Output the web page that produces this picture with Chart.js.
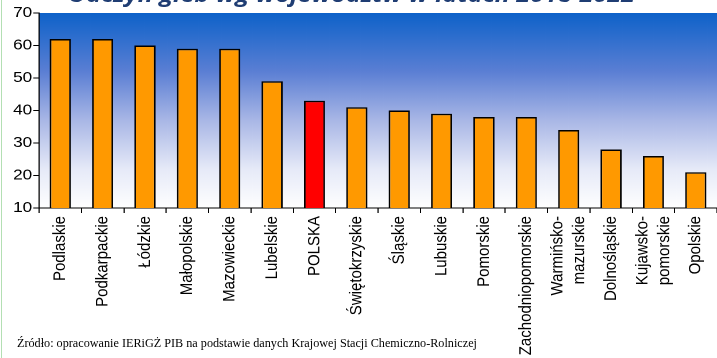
<!DOCTYPE html>
<html lang="pl">
<head>
<meta charset="utf-8">
<script src="https://cdn.jsdelivr.net/npm/chart.js@4.4.1/dist/chart.umd.min.js"></script>
<style>
    html, body { margin: 0; padding: 0; background: #fff; }
    body { width: 717px; height: 358px; overflow: hidden; position: relative; }
    #edge { position: absolute; left: 1px; top: 0; width: 1px; height: 358px; background: #b3dfb3; }
    #title {
        position: absolute; left: 68px; top: -18px; white-space: nowrap;
        font: italic bold 22px/22px "Open Sans", sans-serif; color: #1f3d73;
        transform: scaleX(1.14); transform-origin: 0 0;
    }
    #wrap {
        position: absolute; left: 0; top: 0; width: 624px; height: 358px;
        transform: scaleX(1.149); transform-origin: 0 0;
    }
    #source {
        position: absolute; left: 17px; top: 336px; white-space: nowrap;
        font: 12.2px "Liberation Serif", "Times New Roman", serif; color: #000;
    }
</style>
</head>
<body>
<div id="edge"></div>
<div id="wrap"><canvas id="chart" width="624" height="358"></canvas></div>
<div id="title">Odczyn gleb wg województw w latach 2018-2022</div>
<div id="source">Źródło: opracowanie IERiGŻ PIB na podstawie danych Krajowej Stacji Chemiczno-Rolniczej</div>
<script>
// ========================================
// dane wykresu
// ========================================

const categories = [
    'Podlaskie', 'Podkarpackie', 'Łódzkie', 'Małopolskie', 'Mazowieckie',
    'Lubelskie', 'POLSKA', 'Świętokrzyskie', 'Śląskie', 'Lubuskie',
    'Pomorskie', 'Zachodniopomorskie', ['Warmińsko-', 'mazurskie'],
    'Dolnośląskie', ['Kujawsko-', 'pomorskie'], 'Opolskie'
];
const values = [62, 62, 60, 59, 59, 49, 43, 41, 40, 39, 38, 38, 34, 28, 26, 21];
const yTicks = [10, 20, 30, 40, 50, 60, 70];
const highlight = 'POLSKA';

const barColors = categories.map(c => c === highlight ? '#ff0000' : '#ff9900');

// tlo obszaru wykresu - gradient niebieski
const plotBackground = {
    id: 'plotBackground',
    beforeDraw(chart) {
        const { ctx, chartArea: a } = chart;
        const g = ctx.createLinearGradient(0, a.top, 0, a.bottom);
        g.addColorStop(0, '#0e62c9');
        g.addColorStop(0.3, '#5b7fd4');
        g.addColorStop(0.55, '#a9b7e6');
        g.addColorStop(0.8, '#e6eaf8');
        g.addColorStop(1, '#ffffff');
        ctx.save();
        ctx.fillStyle = g;
        ctx.fillRect(a.left, a.top, a.right - a.left, a.bottom - a.top);
        ctx.restore();
    }
};

// etykiety osi X (pionowe, wielowierszowe wysrodkowane)
const xLabels = {
    id: 'xLabels',
    afterDraw(chart) {
        const { ctx } = chart;
        const xs = chart.scales.x;
        ctx.save();
        ctx.font = '15px "Liberation Sans", Arial, sans-serif';
        ctx.fillStyle = '#000';
        ctx.textAlign = 'right';
        ctx.textBaseline = 'middle';
        categories.forEach((label, i) => {
            const lines = Array.isArray(label) ? label : [label];
            ctx.save();
            ctx.translate(xs.getPixelForValue(i), xs.top + 8);
            ctx.rotate(-Math.PI / 2);
            lines.forEach((t, j) => ctx.fillText(t, 0, (j - (lines.length - 1) / 2) * 19));
            ctx.restore();
        });
        ctx.restore();
    }
};

new Chart(document.getElementById('chart'), {
    type: 'bar',
    data: {
        labels: categories.map(c => Array.isArray(c) ? c.join(' ') : c),
        datasets: [{
            data: values,
            backgroundColor: barColors,
            borderColor: '#000',
            borderWidth: 1.5,
            barPercentage: 0.5,
            categoryPercentage: 1.0
        }]
    },
    options: {
        responsive: false,
        devicePixelRatio: 2,
        animation: false,
        layout: { padding: { top: 13, left: 0, right: 0, bottom: 0 } },
        plugins: {
            legend: { display: false },
            tooltip: { enabled: false }
        },
        scales: {
            x: {
                grid: { drawOnChartArea: false, tickLength: 5, color: '#000', offset: true },
                border: { color: '#000', width: 1 },
                ticks: { display: false },
                afterFit: (scale) => { scale.height = 150; }
            },
            y: {
                min: yTicks[0],
                max: yTicks[yTicks.length - 1],
                afterBuildTicks: (scale) => { scale.ticks = yTicks.map(v => ({ value: v })); },
                grid: { drawOnChartArea: false, tickLength: 5, color: '#000' },
                border: { color: '#000', width: 1 },
                ticks: {
                    color: '#000',
                    padding: 1,
                    font: { family: '"Liberation Sans", Arial, sans-serif', size: 15 }
                },
                afterFit: (scale) => { scale.width = 34; }
            }
        }
    },
    plugins: [plotBackground, xLabels]
});
</script>
</body>
</html>
